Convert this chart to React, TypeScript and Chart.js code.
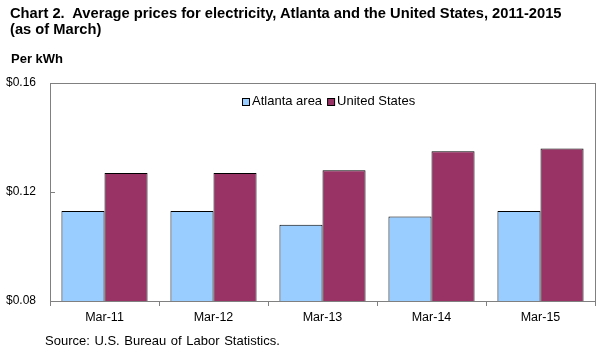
import React, { useEffect, useRef } from "react";
import { Chart, registerables } from "chart.js";

Chart.register(...registerables);

const categories = ["Mar-11", "Mar-12", "Mar-13", "Mar-14", "Mar-15"];
const atlantaArea = [0.113, 0.113, 0.108, 0.111, 0.113];
const unitedStates = [0.127, 0.127, 0.128, 0.135, 0.136];
const yTicks = [0.08, 0.12, 0.16];

const FONT = "'Liberation Sans', Arial, sans-serif";
const AXIS_GRAY = "#808080";

const framePlugin = {
  id: "frame",
  afterDraw(chart: any) {
    const { ctx, chartArea } = chart;
    const { left, right, top, bottom } = chartArea;
    ctx.save();
    ctx.strokeStyle = AXIS_GRAY;
    ctx.lineWidth = 1;
    ctx.strokeRect(Math.round(left) + 0.5, Math.round(top) + 0.5, Math.round(right - left), Math.round(bottom - top));
    // inward y ticks
    const ys = chart.scales.y;
    ys.ticks.forEach((t: any) => {
      const py = Math.round(ys.getPixelForValue(t.value)) + 0.5;
      ctx.beginPath();
      ctx.moveTo(Math.round(left), py);
      ctx.lineTo(Math.round(left) + 5, py);
      ctx.stroke();
    });
    // legend inside plot area
    ctx.font = `13px ${FONT}`;
    ctx.textBaseline = "middle";
    const box = 7;
    const gap = 2;
    const spacing = 6;
    const items = chart.data.datasets.map((d: any) => ({
      label: d.label,
      color: d.backgroundColor,
      w: box + gap + ctx.measureText(d.label).width,
    }));
    const total = items.reduce((s: number, it: any) => s + it.w, 0) + spacing * (items.length - 1);
    let x = Math.round((left + right) / 2 + 6 - total / 2);
    const cy = top + 18;
    items.forEach((it: any) => {
      ctx.fillStyle = it.color;
      ctx.fillRect(x + 0.5, Math.round(cy - box / 2) + 0.5, box, box);
      ctx.strokeStyle = "#000";
      ctx.strokeRect(x + 0.5, Math.round(cy - box / 2) + 0.5, box, box);
      ctx.fillStyle = "#000";
      ctx.fillText(it.label, x + box + gap + 1, cy);
      x += it.w + spacing;
    });
    ctx.restore();
  },
};

export default function App() {
  const ref = useRef<HTMLCanvasElement | null>(null);

  useEffect(() => {
    if (!ref.current) return;
    const chart = new Chart(ref.current, {
      type: "bar",
      data: {
        labels: categories,
        datasets: [
          {
            label: "Atlanta area",
            data: atlantaArea,
            backgroundColor: "#99CCFF",
            borderColor: "#000000",
            borderWidth: 1,
          },
          {
            label: "United States",
            data: unitedStates,
            backgroundColor: "#993366",
            borderColor: "#000000",
            borderWidth: 1,
          },
        ],
      },
      options: {
        animation: false,
        responsive: false,
        maintainAspectRatio: false,
        layout: { padding: { left: 0, right: 8, top: 83, bottom: 31 } },
        datasets: { bar: { barPercentage: 1, categoryPercentage: 0.79 } },
        plugins: {
          legend: { display: false },
          title: { display: false },
          tooltip: { enabled: false },
        },
        scales: {
          x: {
            offset: true,
            grid: {
              display: true,
              offset: true,
              drawOnChartArea: false,
              drawTicks: true,
              tickLength: 5,
              color: AXIS_GRAY,
            },
            border: { display: false },
            ticks: {
              color: "#000",
              font: { family: FONT, size: 12.5 },
              padding: 4,
              maxRotation: 0,
            },
            afterFit: (s: any) => {
              s.height = 30;
            },
          },
          y: {
            min: 0.08,
            max: 0.16,
            grid: { display: false, drawTicks: false },
            border: { display: false },
            afterBuildTicks: (s: any) => {
              s.ticks = yTicks.map((v) => ({ value: v }));
            },
            ticks: {
              color: "#000",
              font: { family: FONT, size: 12 },
              padding: 14,
              callback: (v: any) => "$" + Number(v).toFixed(2),
            },
            afterFit: (s: any) => {
              s.width = 50;
            },
          },
        },
      },
      plugins: [framePlugin],
    });
    return () => chart.destroy();
  }, []);

  return (
    <div style={{ position: "absolute", left: 0, top: 0, width: 603, height: 362, background: "#fff", fontFamily: FONT }}>
      <canvas ref={ref} width={603} height={362} style={{ position: "absolute", left: 0, top: 0 }} />
      <div style={{ position: "absolute", left: 10, top: 5, fontSize: 14.7, fontWeight: "bold", lineHeight: "16px", whiteSpace: "pre", color: "#000" }}>
        {"Chart 2.  Average prices for electricity, Atlanta and the United States, 2011-2015\n(as of March)"}
      </div>
      <div style={{ position: "absolute", left: 11, top: 51, fontSize: 13, fontWeight: "bold", lineHeight: "15px", color: "#000" }}>
        Per kWh
      </div>
      <div style={{ position: "absolute", left: 45, top: 333, fontSize: 13, lineHeight: "15px", wordSpacing: 1, color: "#000" }}>
        Source: U.S. Bureau of Labor Statistics.
      </div>
    </div>
  );
}
